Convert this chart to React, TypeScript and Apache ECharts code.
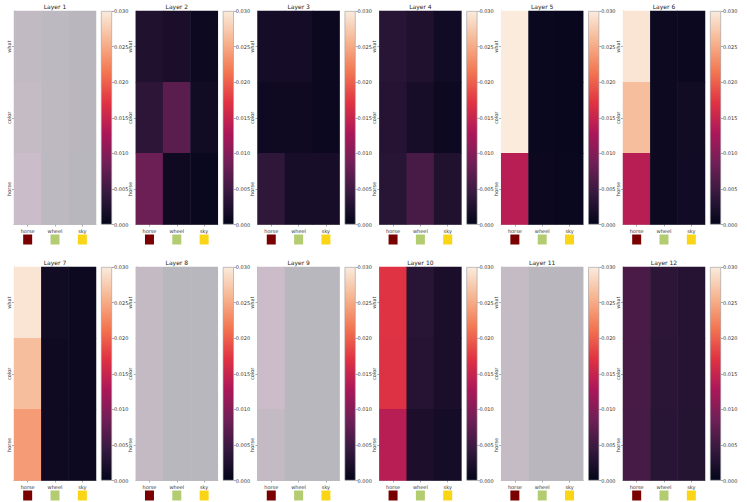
import React, { useEffect, useRef } from "react";
import * as echarts from "echarts";

const X_CATS = ["horse", "wheel", "sky"];
const Y_CATS = ["what", "color", "horse"];
const X_SWATCHES = ["#7a0000", "#b3cc72", "#f9d516"];
const LAYER_TITLES = ["Layer 1", "Layer 2", "Layer 3", "Layer 4", "Layer 5", "Layer 6", "Layer 7", "Layer 8", "Layer 9", "Layer 10", "Layer 11", "Layer 12"];
const TICKS_MIN = 0;
const TICKS_MAX = 0.03;
const TICKS_STEP = 0.005;

// rows: what, color, horse ; cols: horse, wheel, sky
const layer1 = [[0.012, 0.008, 0.002], [0.016, 0.009, 0.002], [0.022, 0.008, 0.001]];
const layer2 = [[0.0025, 0.002, 0.0008], [0.0035, 0.007, 0.0012], [0.0083, 0.001, 0.0006]];
const layer3 = [[0.0015, 0.0015, 0.0007], [0.001, 0.001, 0.0007], [0.0038, 0.0018, 0.0018]];
const layer4 = [[0.0032, 0.0025, 0.0013], [0.003, 0.0018, 0.0008], [0.0032, 0.0057, 0.0025]];
const layer5 = [[0.03, 0.0006, 0.0004], [0.03, 0.0006, 0.0005], [0.0138, 0.0007, 0.0006]];
const layer6 = [[0.0295, 0.0008, 0.0007], [0.0265, 0.0008, 0.0012], [0.0138, 0.0008, 0.0013]];
const layer7 = [[0.0295, 0.0012, 0.0008], [0.0265, 0.001, 0.0008], [0.024, 0.001, 0.0008]];
const layer8 = [[0.014, 0.001, 0.001], [0.014, 0.001, 0.001], [0.014, 0.001, 0.001]];
const layer9 = [[0.024, 0.001, 0.001], [0.024, 0.001, 0.001], [0.014, 0.001, 0.001]];
const layer10 = [[0.017, 0.0032, 0.002], [0.0168, 0.003, 0.002], [0.0138, 0.0022, 0.0015]];
const layer11 = [[0.016, 0.002, 0.002], [0.016, 0.002, 0.002], [0.016, 0.002, 0.002]];
const layer12 = [[0.0058, 0.0035, 0.003], [0.0056, 0.0034, 0.003], [0.0055, 0.0032, 0.0029]];
const LAYERS = [layer1, layer2, layer3, layer4, layer5, layer6, layer7, layer8, layer9, layer10, layer11, layer12];
const MUTED_LAYERS = [1, 8, 9, 11];

const ROCKET = ["#03051a", "#35193e", "#701f57", "#ad1759", "#e13342", "#f37651", "#f6b48f", "#faebdd"];
const MUTED = ["#b7b7bc", "#bfb9c1", "#c8bcc8", "#d3bdcd"];

export default function App() {
  const ref = useRef<HTMLDivElement>(null);
  useEffect(() => {
    if (!ref.current) return;
    const chart = echarts.init(ref.current, null, { renderer: "svg" });
    const grids: any[] = [];
    const xAxes: any[] = [];
    const yAxes: any[] = [];
    const series: any[] = [];
    const titles: any[] = [];
    const rocketIdx: number[] = [];
    const mutedIdx: number[] = [];
    const font = "DejaVu Sans";
    const rich: any = { t: { fontSize: 5, lineHeight: 8, color: "#333", fontFamily: font } };
    X_CATS.forEach((c, i) => {
      rich["s" + i] = { width: 9, height: 10, backgroundColor: X_SWATCHES[i] };
    });
    const gradStops = ROCKET.map((c, i) => ({ offset: i / (ROCKET.length - 1), color: c }));

    LAYERS.forEach((data, li) => {
      const row = Math.floor(li / 6);
      const col = li % 6;
      const left = 14 + col * 121.8;
      const top = row === 0 ? 11 : 267;
      const h = 213.5;
      const w = 82;
      grids.push({ left, top, width: w, height: h });
      const gi = grids.length - 1;
      xAxes.push({
        type: "category", gridIndex: gi, data: X_CATS, position: "bottom",
        axisLine: { show: true, lineStyle: { color: "#b0b0b4", width: 0.8 } },
        axisTick: { show: true, alignWithLabel: true, length: 2, lineStyle: { color: "#555", width: 0.5 } },
        splitLine: { show: false },
        axisLabel: {
          margin: 2, interval: 0,
          formatter: (v: string) => `{t|${v}}\n{s${X_CATS.indexOf(v)}|}`,
          rich,
        },
      });
      yAxes.push({
        type: "category", gridIndex: gi, data: Y_CATS, inverse: true,
        axisLine: { show: true, lineStyle: { color: "#b0b0b4", width: 0.8 } },
        axisTick: { show: true, alignWithLabel: true, length: 2, lineStyle: { color: "#555", width: 0.5 } },
        splitLine: { show: false },
        axisLabel: {
          rotate: 90, fontSize: 5, color: "#333", margin: 3, fontFamily: font,
          align: "center", verticalAlign: "bottom",
        },
      });
      const pts: any[] = [];
      data.forEach((r, yi) => r.forEach((v, xi) => pts.push([xi, yi, v])));
      series.push({
        type: "heatmap", xAxisIndex: xAxes.length - 1, yAxisIndex: yAxes.length - 1,
        data: pts, itemStyle: { borderWidth: 0 }, emphasis: { disabled: true },
      });
      if (MUTED_LAYERS.includes(li + 1)) mutedIdx.push(series.length - 1);
      else rocketIdx.push(series.length - 1);

      titles.push({
        text: LAYER_TITLES[li], left: left + w / 2, top: top - 8, textAlign: "center", padding: 0,
        textStyle: { fontSize: 6, fontWeight: "normal", color: "#222", fontFamily: font },
      });

      grids.push({ left: left + 87, top, width: 11, height: h });
      const ci = grids.length - 1;
      xAxes.push({ type: "category", gridIndex: ci, data: [""], show: false });
      yAxes.push({
        type: "value", gridIndex: ci, min: TICKS_MIN, max: TICKS_MAX, interval: TICKS_STEP, position: "right",
        axisLine: { show: false },
        axisTick: { show: true, length: 2, lineStyle: { color: "#555", width: 0.5 } },
        splitLine: { show: false },
        axisLabel: { fontSize: 5, color: "#333", margin: 2, fontFamily: font, formatter: (v: number) => v.toFixed(3) },
      });
      series.push({
        type: "bar", xAxisIndex: xAxes.length - 1, yAxisIndex: yAxes.length - 1,
        data: [TICKS_MAX], barWidth: "100%", silent: true,
        itemStyle: {
          color: new echarts.graphic.LinearGradient(0, 1, 0, 0, gradStops),
          borderColor: "#9a9aa0", borderWidth: 0.6,
        },
      });
    });

    chart.setOption({
      animation: false,
      backgroundColor: "#ffffff",
      title: titles,
      grid: grids,
      xAxis: xAxes,
      yAxis: yAxes,
      visualMap: [
        { type: "continuous", min: TICKS_MIN, max: TICKS_MAX, show: false, seriesIndex: rocketIdx, inRange: { color: ROCKET } },
        { type: "continuous", min: TICKS_MIN, max: TICKS_MAX, show: false, seriesIndex: mutedIdx, inRange: { color: MUTED } },
      ],
      series,
    });
    return () => chart.dispose();
  }, []);
  return <div ref={ref} style={{ position: "fixed", left: 0, top: 0, width: 747, height: 502 }} />;
}
